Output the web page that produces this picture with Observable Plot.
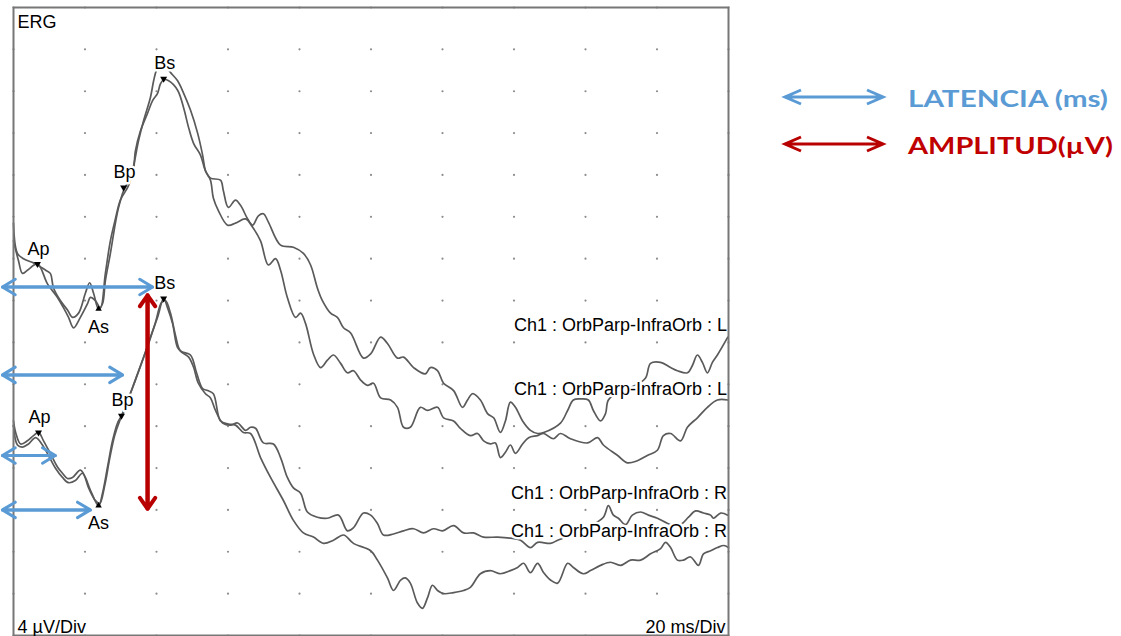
<!DOCTYPE html>
<html>
<head>
<meta charset="utf-8">
<script src="https://cdn.jsdelivr.net/npm/d3@7"></script>
<script src="https://cdn.jsdelivr.net/npm/@observablehq/plot@0.6"></script>
<style>
html, body { margin: 0; padding: 0; background: #fff; }
#wrap { position: relative; width: 1121px; height: 636px; overflow: hidden; background: #fff; }
#chart { position: absolute; left: 0; top: 0; }
#legend { position: absolute; left: 740px; top: 0; }
</style>
</head>
<body>
<div id="wrap"><div id="chart"></div><svg id="legend" width="381" height="200"></svg></div>
<script>
// ---- Grid (20 ms/Div, 4 µV/Div) ----
const gridTimes = [0, 20, 40, 60, 80, 100, 120, 140, 160, 180, 200];
const gridVolts = [0, 4, 8, 12, 16, 20, 24, 28, 32, 36, 40, 44, 48, 52, 56, 60];

// ---- Traces: [time ms, amplitude µV] ----
const traceUpperA = [[0,39.4],[1.1,36.5],[2.8,36.0],[5.6,35.6],[6.7,35.4],[9.0,34.9],[10.3,34.6],[11.2,33.2],[13.1,32.0],[15.1,31.1],[16.5,30.4],[18.2,30.8],[20.1,32.7],[21.3,33.7],[22.4,32.7],[23.8,31.2],[24.9,31.7],[25.7,33.9],[27.1,36.5],[28.5,39.4],[29.4,40.9],[30.8,42.5],[31.9,43.2],[33.3,43.9],[34.1,46.3],[35.5,48.2],[37.5,49.9],[38.9,51.1],[40.3,51.8],[41.1,52.7],[42.0,53.1],[43.4,53.0],[45.9,52.1],[47.6,50.4],[49.0,48.5],[50.4,47.0],[52.3,45.9],[53.7,44.4],[55.1,43.7],[57.9,43.5],[58.7,42.5],[60.1,40.9],[62.1,41.6],[63.5,41.1],[65.5,39.8],[66.9,39.2],[68.5,40.1],[69.9,40.3],[71.3,39.5],[74.7,37.3],[78.3,37.1],[81.1,36.5],[83.1,35.4],[85.0,33.2],[86.4,32.0],[88.7,30.8],[90.6,30.4],[92.3,29.4],[94.3,28.9],[97.9,26.5],[99.9,26.9],[102.7,28.5],[104.6,27.9],[107.4,26.5],[109.1,26.6],[111.9,25.6],[115.2,25.0],[116.6,25.6],[118.6,25.3],[120.3,24.1],[123.1,23.4],[125.6,21.8],[127.0,22.5],[128.4,23.1],[130.6,22.5],[132.6,21.2],[134.3,20.8],[136.2,19.4],[137.6,20.5],[139.0,22.3],[140.4,21.8],[142.4,20.5],[144.6,19.6],[146.6,19.3],[148.3,19.4],[153.0,20.3],[155.0,21.5],[156.6,22.5],[158.6,22.6],[160.8,22.5],[162.2,21.5],[164.2,20.5],[165.6,21.2],[166.4,22.5],[169.8,23.4],[174.0,23.9],[176.8,24.6],[178.2,26.0],[181.0,26.1],[183.8,25.6],[185.7,25.3],[188.5,25.1],[189.9,25.8],[191.3,26.8],[192.7,26.1],[194.1,25.1],[195.5,26.1],[196.9,26.8],[199.8,28.5]];

const traceUpperB = [[0,37.7],[1.4,35.8],[2.5,34.6],[3.9,34.9],[6.7,35.5],[9.5,33.6],[12.3,32.3],[14.0,31.3],[15.4,30.4],[16.8,29.4],[18.7,30.4],[20.7,31.7],[21.5,32.3],[22.9,32.0],[24.3,31.3],[25.7,34.6],[27.1,37.7],[28.5,39.8],[29.9,41.6],[32.2,43.0],[33.6,44.9],[35.0,47.3],[36.4,49.2],[38.3,51.4],[39.2,53.0],[40.0,54.0],[41.1,54.4],[42.5,54.4],[43.9,53.8],[45.9,53.0],[47.6,51.8],[49.5,50.2],[51.5,48.0],[52.9,45.9],[53.7,44.4],[55.1,43.5],[55.9,41.8],[57.3,40.6],[59.9,39.2],[62.1,39.4],[64.9,39.8],[66.9,39.0],[69.1,37.7],[71.3,35.4],[73.3,36.0],[74.7,34.9],[76.6,32.3],[78.9,30.4],[80.3,30.8],[81.7,29.8],[83.9,26.9],[85.9,25.6],[87.8,26.3],[89.5,26.8],[91.5,26.0],[93.4,25.1],[95.1,25.3],[97.1,24.4],[99.0,23.9],[100.7,24.1],[102.7,22.7],[105.5,22.5],[107.4,21.8],[109.1,19.9],[111.0,19.9],[113.8,21.8],[115.8,21.5],[118.6,21.8],[120.3,20.8],[123.1,20.5],[125.0,19.8],[127.8,19.1],[129.8,19.3],[131.5,18.6],[133.4,18.3],[134.8,18.4],[136.2,17.0],[137.6,17.5],[139.0,18.2],[140.4,17.4],[142.4,18.3],[144.1,18.9],[146.6,19.1],[148.3,19.3],[151.0,18.8],[153.0,19.3],[155.8,18.8],[160.6,18.4],[163.4,18.9],[165.0,18.2],[169.0,17.2],[171.7,16.5],[174.5,16.7],[177.3,17.2],[180.1,17.7],[181.8,19.1],[183.8,19.3],[186.6,18.6],[188.5,19.9],[191.3,20.8],[194.1,21.8],[196.9,22.5],[199.8,22.5]];

const traceLowerA = [[0,20.5],[0.6,19.4],[2.0,18.3],[3.9,18.6],[5.6,19.1],[7.0,19.4],[8.4,18.6],[10.3,17.4],[12.3,16.1],[13.7,15.5],[15.1,15.0],[16.5,15.1],[18.7,15.8],[20.1,15.1],[21.5,13.9],[23.8,12.4],[24.9,13.6],[26.3,16.1],[27.7,18.6],[29.1,20.3],[30.2,21.0],[31.9,22.5],[33.3,23.7],[34.7,25.0],[36.4,26.6],[38.3,28.5],[40.3,30.4],[42.0,32.2],[43.1,31.3],[44.5,29.8],[45.9,27.5],[47.3,27.0],[49.0,26.6],[50.4,25.6],[51.7,24.1],[53.7,23.1],[55.1,22.7],[56.5,21.5],[58.5,20.3],[60.7,20.1],[62.7,20.3],[64.9,19.6],[66.3,19.9],[67.7,19.8],[69.9,18.4],[72.7,18.3],[74.7,17.0],[76.6,15.1],[78.3,14.1],[80.3,13.6],[82.2,11.8],[85.0,11.3],[87.8,11.2],[90.9,11.5],[93.4,10.0],[95.1,10.3],[97.9,11.7],[99.9,11.5],[101.8,10.7],[103.5,9.6],[106.3,9.7],[109.1,10.0],[111.9,10.2],[114.7,9.8],[117.5,10.2],[120.0,10.0],[123.1,10.5],[125.9,9.8],[128.7,9.8],[131.5,9.4],[135.4,9.4],[139.0,9.3],[141.8,9.1],[144.6,8.4],[146.6,8.9],[150.2,8.8],[152.2,9.1],[153.6,9.3],[157.2,10.0],[161.4,10.5],[165.0,11.3],[166.4,12.4],[167.8,11.5],[169.2,11.2],[171.2,10.6],[173.1,11.5],[175.4,11.8],[177.6,11.5],[180.1,11.2],[183.8,10.6],[186.6,10.6],[188.8,11.3],[190.8,11.9],[193.0,11.7],[195.0,11.5],[195.8,11.2],[197.8,11.7],[199.8,11.5]];

const traceLowerB = [[0,20.1],[1.1,18.2],[2.5,18.0],[4.2,18.3],[6.2,18.9],[8.1,18.2],[9.8,17.2],[11.7,16.0],[13.7,15.1],[15.4,14.6],[17.3,14.8],[19.3,15.5],[21.0,14.1],[22.9,12.9],[24.1,12.6],[25.5,14.3],[26.9,16.9],[28.3,19.1],[29.7,20.5],[31.3,21.7],[32.7,23.1],[34.1,24.4],[35.8,26.0],[37.8,27.9],[39.7,29.9],[41.4,31.8],[42.5,32.0],[43.9,30.8],[45.3,28.7],[46.7,27.2],[49.5,26.8],[51.2,25.1],[52.9,23.6],[54.3,23.4],[55.9,23.1],[57.9,20.5],[60.1,20.2],[62.1,20.1],[64.3,19.4],[66.3,19.3],[69.1,17.0],[71.9,15.1],[75.5,12.9],[78.3,11.0],[81.1,9.8],[83.9,9.4],[86.7,8.8],[89.5,9.1],[92.3,9.6],[95.1,8.8],[99.9,8.1],[101.8,7.2],[104.6,5.5],[106.3,4.3],[108.3,5.3],[109.6,5.5],[111.0,5.0],[113.0,3.1],[114.4,2.6],[115.8,3.6],[117.2,4.8],[118.6,4.3],[120.3,4.0],[123.1,4.1],[125.9,4.3],[127.8,4.6],[130.6,5.9],[133.4,6.2],[136.2,5.9],[139.0,6.2],[141.0,6.5],[142.7,6.9],[144.6,6.0],[146.6,6.9],[148.3,6.0],[150.2,5.3],[152.2,5.0],[155.0,6.9],[156.6,6.5],[159.4,5.9],[161.4,6.2],[164.2,6.7],[167.0,7.0],[169.8,6.7],[172.6,7.2],[175.4,7.2],[178.2,7.8],[181.0,8.3],[182.4,8.9],[183.8,8.4],[185.7,7.2],[187.4,7.2],[189.4,7.5],[191.6,6.7],[193.0,7.8],[195.0,8.1],[196.9,8.4],[198.7,8.6],[200,8.4]];

// ---- Channel labels ----
const channelLabels = ["Ch1 : OrbParp-InfraOrb : L", "Ch1 : OrbParp-InfraOrb : L", "Ch1 : OrbParp-InfraOrb : R", "Ch1 : OrbParp-InfraOrb : R"];
const channelLabelV = [29.6, 23.5, 13.6, 10.0];

// ---- Peak markers ----
const peakNames = ["Ap", "As", "Bp", "Bs"];
const upperPeakT = [6.7, 23.8, 30.8, 42.0];
const upperPeakV = [35.5, 31.2, 42.8, 53.2];
const lowerPeakT = [7.0, 23.8, 30.2, 42.0];
const lowerPeakV = [19.4, 12.4, 21.0, 32.2];

// ---- Annotation arrows ----
const latencyStartT = -3.1;
const latencyEndT = [38.9, 30.5, 11.7, 21.5];
const latencyV = [33.3, 24.9, 17.2, 12.0];
const amplitudeT = 37.5;
const amplitudeFromV = 12.1;
const amplitudeToV = 32.5;

// ---- Legend ----
const legendLabels = ["LATENCIA (ms)", "AMPLITUD(µV)"];
const legendColors = ["#5B9BD5", "#C00000"];

const BLUE = "#5B9BD5";
const RED = "#B80000";

// build tables
const traces = [
  {name: "upperA", values: traceUpperA},
  {name: "upperB", values: traceUpperB},
  {name: "lowerA", values: traceLowerA},
  {name: "lowerB", values: traceLowerB}
];
const rows = [];
traces.forEach(({name, values}) => values.forEach(([t, v]) => rows.push({name, t, v})));

const grid = [];
for (const t of gridTimes) for (const v of gridVolts) grid.push({t, v});

const peaks = [];
peakNames.forEach((n, i) => {
  peaks.push({name: n, t: upperPeakT[i], v: upperPeakV[i]});
  peaks.push({name: n, t: lowerPeakT[i], v: lowerPeakV[i]});
});
const peaksAbove = peaks.filter(d => d.name !== "As");
const peaksBelow = peaks.filter(d => d.name === "As");

const channelRows = channelLabels.map((label, i) => ({label, v: channelLabelV[i]}));
const latencyRows = latencyEndT.map((x2, i) => ({x1: latencyStartT, x2, v: latencyV[i]}));
const ampRows = [{t: amplitudeT, v1: amplitudeFromV, v2: amplitudeToV}];

const FONT = "'Liberation Sans', Arial, Helvetica, sans-serif";
const FS = 18;

const chart = Plot.plot({
  width: 740,
  height: 636,
  marginLeft: 13,
  marginRight: 12,
  marginTop: 7,
  marginBottom: 1,
  x: {domain: [0, 200], axis: null},
  y: {domain: [0, 60], axis: null},
  style: {background: "white", fontFamily: FONT, overflow: "visible"},
  marks: [
    Plot.dot(grid, {x: "t", y: "v", r: 1.1, fill: "#8c8c8c"}),
    Plot.line(rows, {x: "t", y: "v", z: "name", stroke: "#5a5a5a", strokeWidth: 1.7, curve: "catmull-rom"}),
    Plot.text(channelRows, {x: 199.6, y: "v", text: "label", textAnchor: "end", fontSize: FS, fill: "#000", stroke: "white", strokeWidth: 5, paintOrder: "stroke"}),
    Plot.text(peaksAbove, {x: "t", y: "v", text: "name", dy: -15, dx: 1, fontSize: FS, fill: "#000", stroke: "white", strokeWidth: 5, paintOrder: "stroke"}),
    Plot.text(peaksBelow, {x: "t", y: "v", text: "name", dy: 18, fontSize: FS, fill: "#000", stroke: "white", strokeWidth: 5, paintOrder: "stroke"}),
    Plot.dot(peaksAbove, {x: "t", y: "v", symbol: "triangle", rotate: 180, r: 2.6, fill: "#000"}),
    Plot.dot(peaksBelow, {x: "t", y: "v", symbol: "triangle", r: 2.4, fill: "#000"}),
    Plot.frame({stroke: "#777", strokeWidth: 2}),
    Plot.text(["ERG"], {frameAnchor: "top-left", text: d => d, textAnchor: "start", lineAnchor: "top", dx: 4, dy: 8, fontSize: FS, fill: "#000"}),
    Plot.text(["4 µV/Div"], {frameAnchor: "bottom-left", text: d => d, textAnchor: "start", lineAnchor: "bottom", dx: 4, dy: -3, fontSize: FS, fill: "#000"}),
    Plot.text(["20 ms/Div"], {frameAnchor: "bottom-right", text: d => d, textAnchor: "end", lineAnchor: "bottom", dx: -3, dy: -3, fontSize: FS, fill: "#000"}),
    Plot.arrow(latencyRows, {x1: "x1", x2: "x2", y1: "v", y2: "v", stroke: BLUE, strokeWidth: 3, headLength: 7.5, headAngle: 62}),
    Plot.arrow(latencyRows, {x1: "x2", x2: "x1", y1: "v", y2: "v", stroke: BLUE, strokeWidth: 3, headLength: 7.5, headAngle: 62}),
    Plot.arrow(ampRows, {x1: "t", x2: "t", y1: "v1", y2: "v2", stroke: RED, strokeWidth: 4, headLength: 5, headAngle: 70}),
    Plot.arrow(ampRows, {x1: "t", x2: "t", y1: "v2", y2: "v1", stroke: RED, strokeWidth: 4, headLength: 5, headAngle: 70})
  ]
});
document.getElementById("chart").appendChild(chart);

// ---- Legend (drawn beside the plot) ----
const ns = "http://www.w3.org/2000/svg";
const lg = document.getElementById("legend");
const legendArrowY = [97, 144];
const legendTextBase = [107, 154];
const legendTextWidth = [200, 205];
legendLabels.forEach((label, i) => {
  const y = legendArrowY[i];
  const x1 = 45, x2 = 143, wing = 16, spread = 7;
  const color = i === 0 ? BLUE : RED;
  const p = document.createElementNS(ns, "path");
  p.setAttribute("d", `M${x1},${y}H${x2}M${x1 + wing},${y - spread}L${x1},${y}L${x1 + wing},${y + spread}M${x2 - wing},${y - spread}L${x2},${y}L${x2 - wing},${y + spread}`);
  p.setAttribute("fill", "none");
  p.setAttribute("stroke", color);
  p.setAttribute("stroke-width", "3");
  lg.appendChild(p);
  const t = document.createElementNS(ns, "text");
  t.setAttribute("x", 168);
  t.setAttribute("y", legendTextBase[i]);
  t.setAttribute("fill", legendColors[i]);
  t.setAttribute("font-family", "Lato, 'Open Sans', sans-serif");
  t.setAttribute("font-weight", "bold");
  t.setAttribute("font-size", "22");
  t.setAttribute("textLength", legendTextWidth[i]);
  t.setAttribute("lengthAdjust", "spacingAndGlyphs");
  t.textContent = label;
  lg.appendChild(t);
});
</script>
</body>
</html>
